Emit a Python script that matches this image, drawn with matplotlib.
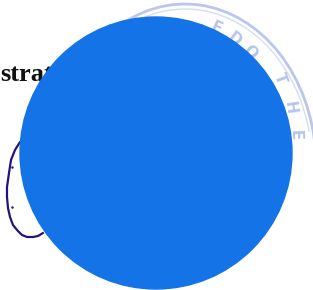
import matplotlib.pyplot as plt
from matplotlib.patches import Circle, Arc

# big blue disc (pixel coords)
disc_center = (156, 153)
disc_radius = 136
disc_color = '#1473e6'

# hand-drawn loop at the left
loop_x = [20, 15, 11, 9, 7, 7, 8, 10, 13, 17, 22, 27, 33, 38, 43]
loop_y = [142, 150, 160, 173, 187, 197, 208, 217, 225, 230, 235, 237, 237, 236, 233]

# faint stamp letters: (char, x, y, rotation)
stamp_letters = [('E', 216, 28, -25), ('D', 234, 39, -38), ('O', 250, 52, -50),
                 ('T', 280, 78, -70), ('H', 290, 108, -82), ('E', 295, 135, -88)]

fig = plt.figure(figsize=(3.13, 2.9), dpi=100)
ax = fig.add_axes([0, 0, 1, 1])
ax.set_xlim(0, 313)
ax.set_ylim(290, 0)
ax.axis('off')

# stamp rings
ax.add_patch(Arc((185, 165), 262, 322, theta1=200, theta2=355, color='#a9b8ea', lw=2.0, alpha=0.8))
ax.add_patch(Arc((185, 165), 254, 312, theta1=215, theta2=345, color='#c3cef2', lw=1.0, alpha=0.7))
for ch, x, y, rot in stamp_letters:
    ax.text(x, y, ch, fontsize=11, color='#a9b8ea', rotation=rot, ha='center', va='center',
            family='DejaVu Sans', fontweight='bold', alpha=0.85)

ax.text(0, 81, 'strat', fontsize=19, fontweight='heavy', family='Liberation Serif',
        color='#111111', va='baseline')

ax.plot(loop_x, loop_y, color='#24137a', lw=1.6, solid_capstyle='round')
ax.plot([12], [167], marker='.', ms=1.5, color='#24137a')
ax.plot([12], [207], marker='.', ms=1.5, color='#24137a')

ax.add_patch(Circle(disc_center, disc_radius, color=disc_color, zorder=5))

fig.savefig('out.png', dpi=100)
